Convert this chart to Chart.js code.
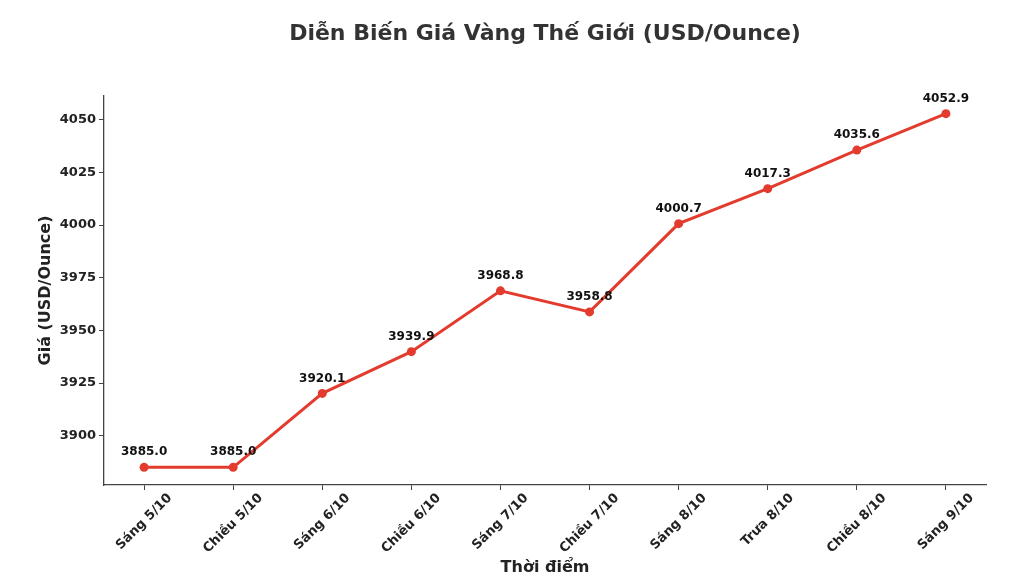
<!DOCTYPE html>
<html>
<head>
<meta charset="utf-8">
<script src="https://cdn.jsdelivr.net/npm/chart.js@4/dist/chart.umd.min.js"></script>
<style>
  html, body { margin: 0; padding: 0; background: #fff; }
  #wrap { width: 1028px; height: 588px; }
</style>
</head>
<body>
<div id="wrap"><canvas id="goldChart" width="1028" height="588"></canvas></div>
<script>
// Data
const labels = ['Sáng 5/10', 'Chiều 5/10', 'Sáng 6/10', 'Chiều 6/10', 'Sáng 7/10',
    'Chiều 7/10', 'Sáng 8/10', 'Trưa 8/10', 'Chiều 8/10', 'Sáng 9/10'];
const prices = [3885.0, 3885.0, 3920.1, 3939.9, 3968.8, 3958.8, 4000.7, 4017.3, 4035.6, 4052.9];
const yTicks = [3900, 3925, 3950, 3975, 4000, 4025, 4050];

const titleText = 'Diễn Biến Giá Vàng Thế Giới (USD/Ounce)';
const xTitle = 'Thời điểm';
const yTitle = 'Giá (USD/Ounce)';

const FONT = '"DejaVu Sans", Verdana, sans-serif';
const lineColor = '#e33b2e';

// matplotlib-like 5% margins around the data
const yMinData = Math.min(...prices), yMaxData = Math.max(...prices);
const yPad = (yMaxData - yMinData) * 0.05;
const xPad = (labels.length - 1) * 0.05;

// draws title, axis titles, rotated x labels and value labels
const decorations = {
    id: 'decorations',
    afterDraw(chart) {
        const ctx = chart.ctx;
        const area = chart.chartArea;
        const xs = chart.scales.x;
        const cx = (area.left + area.right) / 2;
        ctx.save();

        ctx.fillStyle = '#333';
        ctx.font = 'bold 22px ' + FONT;
        ctx.textAlign = 'center';
        ctx.textBaseline = 'middle';
        ctx.fillText(titleText, cx, 34);

        ctx.fillStyle = '#222';
        ctx.font = 'bold 16px ' + FONT;
        ctx.fillText(xTitle, cx, 568);
        ctx.save();
        ctx.translate(46, (area.top + area.bottom) / 2);
        ctx.rotate(-Math.PI / 2);
        ctx.fillText(yTitle, 0, 0);
        ctx.restore();

        // x tick labels, rotated 45 deg and centred under the tick
        ctx.font = 'bold 13px ' + FONT;
        labels.forEach((lab, i) => {
            const x = xs.getPixelForValue(i);
            const w = ctx.measureText(lab).width;
            const half = (w + 14) * Math.SQRT1_2 / 2;
            ctx.save();
            ctx.translate(x, area.bottom + 6 + half);
            ctx.rotate(-Math.PI / 4);
            ctx.fillText(lab, 0, 0);
            ctx.restore();
        });

        // value labels above points
        const meta = chart.getDatasetMeta(0);
        ctx.fillStyle = '#111';
        ctx.font = 'bold 12px ' + FONT;
        meta.data.forEach((pt, i) => {
            ctx.fillText(prices[i].toFixed(1), pt.x, pt.y - 15);
        });
        ctx.restore();
    }
};

const ctx = document.getElementById('goldChart').getContext('2d');
new Chart(ctx, {
    type: 'line',
    data: {
        datasets: [{
            data: prices.map((p, i) => ({ x: i, y: p })),
            borderColor: lineColor,
            backgroundColor: lineColor,
            borderWidth: 3,
            pointRadius: 4.5,
            pointBorderWidth: 0,
            pointBackgroundColor: lineColor,
            tension: 0,
            fill: false
        }]
    },
    options: {
        responsive: false,
        animation: false,
        layout: { padding: { top: 96, right: 42, left: 0, bottom: 0 } },
        plugins: {
            legend: { display: false },
            title: { display: false },
            tooltip: { enabled: false }
        },
        scales: {
            x: {
                type: 'linear',
                min: -xPad,
                max: labels.length - 1 + xPad,
                afterBuildTicks: (s) => { s.ticks = labels.map((l, i) => ({ value: i })); },
                afterFit: (s) => { s.height = 103; },
                grid: { drawOnChartArea: false, drawTicks: true, tickLength: 5, color: '#444', lineWidth: 1 },
                border: { display: true, color: '#444', width: 1.3 },
                ticks: { color: 'rgba(0,0,0,0)', maxRotation: 0, autoSkip: false, callback: (v) => labels[v] || '' }
            },
            y: {
                min: yMinData - yPad,
                max: yMaxData + yPad,
                afterBuildTicks: (s) => { s.ticks = yTicks.map(v => ({ value: v })); },
                afterFit: (s) => { s.width = 104; },
                grid: { drawOnChartArea: false, drawTicks: true, tickLength: 5, color: '#444', lineWidth: 1 },
                border: { display: true, color: '#444', width: 1.3 },
                ticks: {
                    color: '#222',
                    padding: 3,
                    font: { family: FONT, size: 13, weight: 'bold' },
                    callback: (v) => String(v)
                }
            }
        }
    },
    plugins: [decorations]
});
</script>
</body>
</html>
